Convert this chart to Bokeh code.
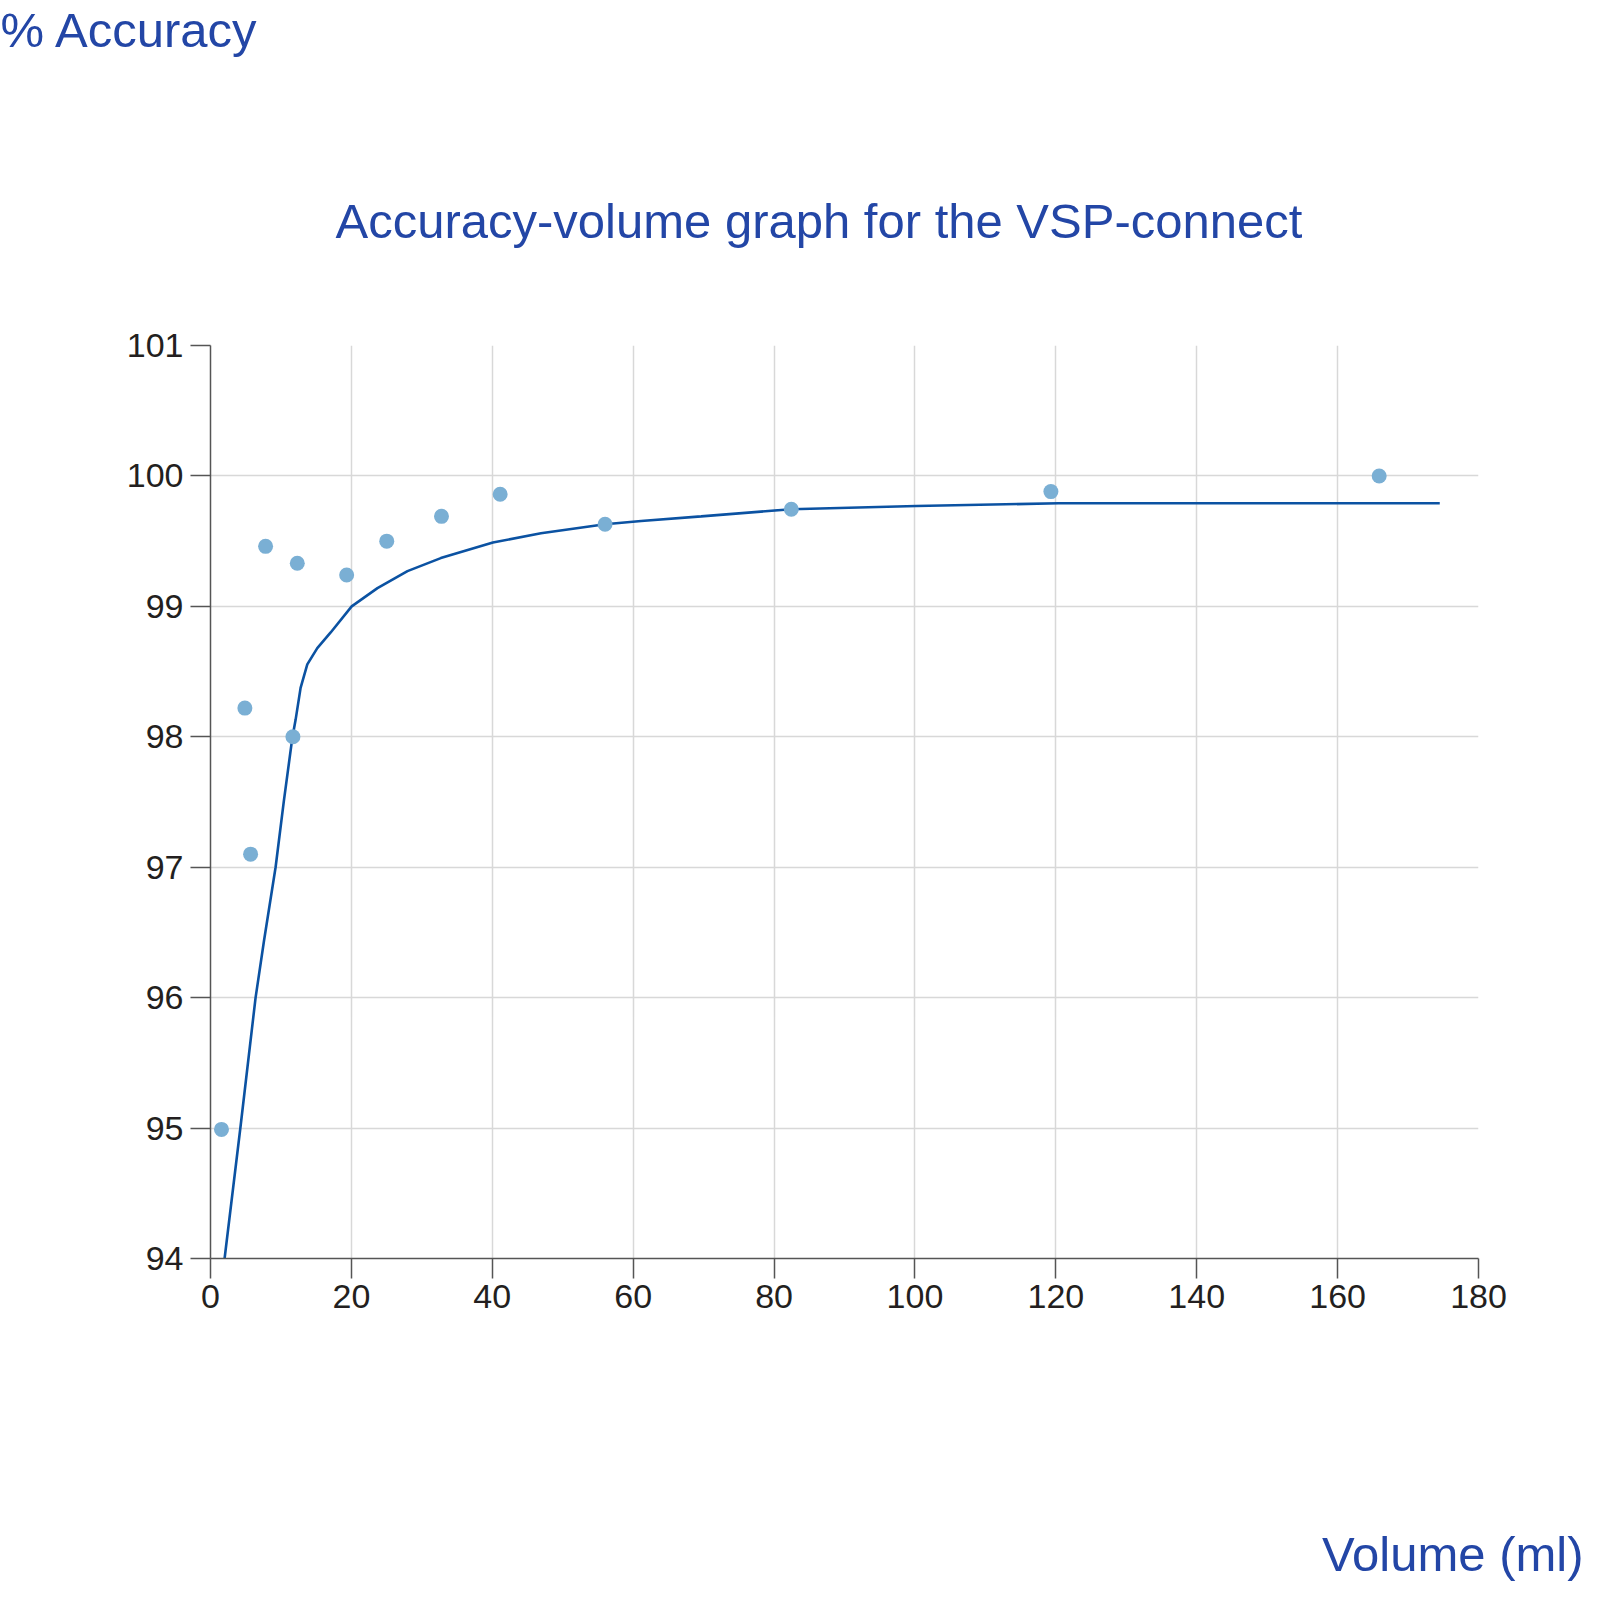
from bokeh.plotting import figure
from bokeh.models import Range1d, Title, FixedTicker
from bokeh.embed import file_html
from bokeh.resources import INLINE

# Measured points (volume ml, % accuracy)
point_volume = [1.56, 4.88, 5.69, 7.82, 11.70, 12.32, 19.33, 25.02, 32.79, 41.12, 56.01, 82.45, 119.3, 165.9]
point_accuracy = [94.99, 98.22, 97.10, 99.46, 98.00, 99.33, 99.24, 99.50, 99.69, 99.86, 99.63, 99.744, 99.88, 100.0]

# Fitted curve
curve_volume = [2.0, 4.26, 6.40, 7.58, 9.24, 10.42, 11.61, 12.08, 12.79, 13.74, 15.16, 17.06, 20.04,
                23.70, 27.96, 32.69, 40.09, 46.91, 56.01, 61.13, 69.65, 82.45, 100.2, 120.4, 174.5]
curve_accuracy = [94.0, 95.01, 96.0, 96.43, 97.0, 97.51, 97.99, 98.13, 98.375, 98.555, 98.68, 98.80, 99.00,
                  99.14, 99.27, 99.37, 99.49, 99.56, 99.63, 99.655, 99.69, 99.745, 99.77, 99.79, 99.79]

x_ticks = [0, 20, 40, 60, 80, 100, 120, 140, 160, 180]
y_ticks = [94, 95, 96, 97, 98, 99, 100, 101]

TITLE = "Accuracy-volume graph for the VSP-connect"
Y_LABEL = "% Accuracy"
X_LABEL = "Volume (ml)"

BLUE_TEXT = "#2346a6"
LINE_COLOR = "#0b52a2"
DOT_COLOR = "#7aafd4"
FONT = "Liberation Sans"

W, H = 1584, 1584
FL, FR, FT, FB = 210, 106, 345, 326
X0, X1, Y0, Y1 = 0, 180, 94, 101

p = figure(width=W, height=H, output_backend="svg", toolbar_location=None,
           x_range=Range1d(X0, X1), y_range=Range1d(Y0, Y1),
           min_border_left=FL, min_border_right=FR, min_border_top=FT, min_border_bottom=FB)
p.outline_line_color = None
p.background_fill_color = "white"
p.border_fill_color = "white"

for ax, ticks in ((p.xaxis[0], x_ticks), (p.yaxis[0], y_ticks)):
    ax.ticker = FixedTicker(ticks=ticks)
    ax.major_tick_out = 20
    ax.major_tick_in = 0
    ax.minor_tick_line_color = None
    ax.axis_line_color = "#555555"
    ax.axis_line_width = 1.5
    ax.major_tick_line_color = "#555555"
    ax.major_tick_line_width = 1.5
    ax.major_label_text_font = FONT
    ax.major_label_text_font_size = "34px"
    ax.major_label_text_color = "#231f20"
p.xaxis.major_label_standoff = 6
p.yaxis.major_label_standoff = 7

p.grid.grid_line_color = "#d8d8d8"
p.grid.grid_line_width = 1.5
p.xgrid.ticker = FixedTicker(ticks=x_ticks)
p.ygrid.ticker = FixedTicker(ticks=y_ticks)

p.line(curve_volume, curve_accuracy, line_color=LINE_COLOR, line_width=2.6)
p.scatter(point_volume, point_accuracy, size=15, fill_color=DOT_COLOR, line_color=None)


def make_title(text, align, offset, standoff, valign="bottom", line_height=1.2):
    return Title(text=text, align=align, offset=offset, standoff=standoff,
                 vertical_align=valign, text_line_height=line_height,
                 text_font=FONT, text_font_size="49px", text_font_style="normal",
                 text_color=BLUE_TEXT)

# main title, next to the frame
p.add_layout(make_title(TITLE, "left", 125, 195), "above")
# "% Accuracy" at the very top: an empty second line pushes it upwards
p.add_layout(make_title(Y_LABEL + "\n", "left", -FL, 0, valign="top", line_height=0.66), "above")
# "Volume (ml)" at the very bottom: empty leading lines push it downwards
p.add_layout(make_title("\n\n\n\n" + X_LABEL, "right", -105, 0, valign="top", line_height=1.0), "below")

open("out.html", "w").write(file_html(p, INLINE))
